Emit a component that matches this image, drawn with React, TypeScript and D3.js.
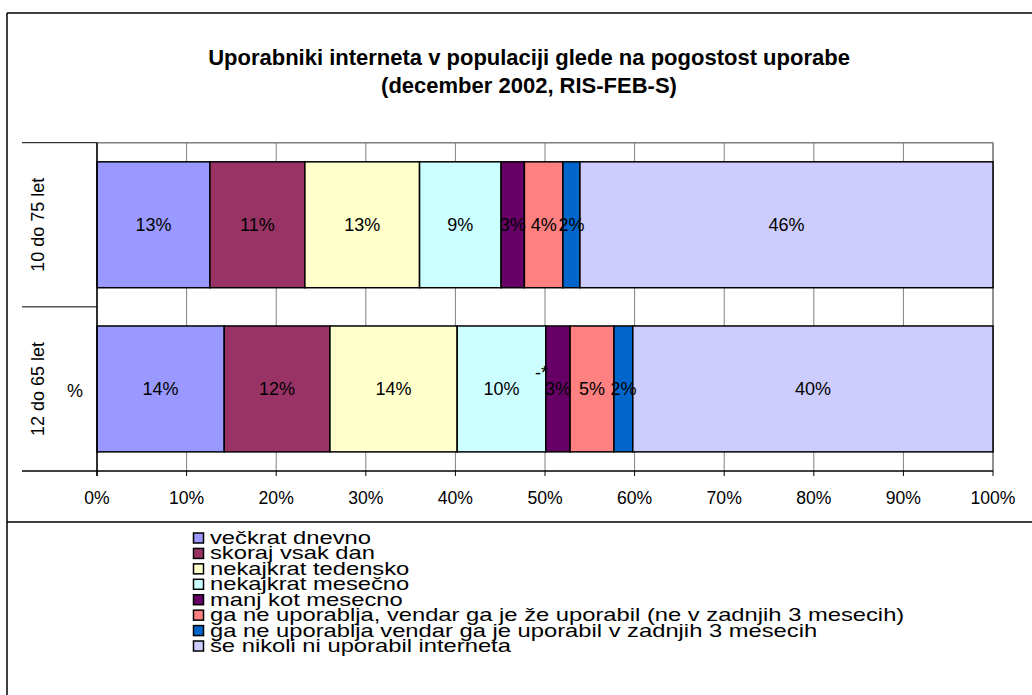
import React from "react";
import * as d3 from "d3";

const title1 = "Uporabniki interneta v populaciji glede na pogostost uporabe";
const title2 = "(december 2002, RIS-FEB-S)";

const categories = ["10 do 75 let", "12 do 65 let"];
const seriesNames = [
  "večkrat dnevno",
  "skoraj vsak dan",
  "nekajkrat tedensko",
  "nekajkrat mesečno",
  "manj kot mesecno",
  "ga ne uporablja, vendar ga je že uporabil (ne v zadnjih 3 mesecih)",
  "ga ne uporablja vendar ga je uporabil v zadnjih 3 mesecih",
  "še nikoli ni uporabil interneta",
];
const seriesColors = ["#9999FF", "#993366", "#FFFFCC", "#CCFFFF", "#660066", "#FF8080", "#0066CC", "#CCCCFF"];
// values per category (percent), in series order
const values10to75 = [12.6, 10.6, 12.8, 9.1, 2.6, 4.3, 1.9, 46.1];
const values12to65 = [14.2, 11.8, 14.2, 9.9, 2.7, 4.9, 2.1, 40.2];
const valuesByCategory = [values10to75, values12to65];
const tickValues = [0, 10, 20, 30, 40, 50, 60, 70, 80, 90, 100];
const axisTitle = "%";
const footnote = "-*";

const FONT = "'Liberation Sans', Arial, sans-serif";

export default function App() {
  const W = 1032, H = 695;
  const left = 97, right = 993, top = 142.7, bottom = 471;
  const x = d3.scaleLinear().domain([0, 100]).range([left, right]);
  const y = d3.scaleBand<string>().domain(categories).range([top, bottom]).paddingInner(0.233).paddingOuter(0.1165);
  const fmt = (v: number) => `${Math.round(v)}%`;

  const stacks = valuesByCategory.map((vals) => {
    let acc = 0;
    return vals.map((v, i) => {
      const s = { x0: acc, x1: acc + v, v, i };
      acc += v;
      return s;
    });
  });

  const legendTop = 537;
  const legendStep = 15.43;

  return (
    <svg width={W} height={H} style={{ position: "absolute", left: 0, top: 0, background: "#fff" }} fontFamily={FONT}>
      <rect x={0} y={0} width={W} height={H} fill="#fff" />
      {/* outer frame */}
      <line x1={7} y1={13} x2={W + 5} y2={13} stroke="#000" strokeWidth={1.5} />
      <line x1={7} y1={13} x2={7} y2={H + 5} stroke="#000" strokeWidth={1.5} />
      <line x1={7} y1={522} x2={W + 5} y2={522} stroke="#000" strokeWidth={1.5} />

      {/* title */}
      <text x={529} y={65} textAnchor="middle" fontWeight="bold" fontSize={22}>{title1}</text>
      <text x={529} y={93} textAnchor="middle" fontWeight="bold" fontSize={22}>{title2}</text>

      {/* gridlines */}
      {tickValues.map((t) => (
        <line key={"g" + t} x1={x(t)} x2={x(t)} y1={top} y2={bottom} stroke="#808080" strokeWidth={1} />
      ))}
      {/* plot border */}
      <line x1={left} y1={top} x2={right} y2={top} stroke="#808080" strokeWidth={1.5} />
      <line x1={right} y1={top} x2={right} y2={bottom} stroke="#808080" strokeWidth={1.5} />
      <line x1={22} y1={top} x2={left} y2={top} stroke="#000" strokeWidth={1} />
      <line x1={22} y1={top + y.step()} x2={left} y2={top + y.step()} stroke="#000" strokeWidth={1} />

      {/* bars */}
      {stacks.map((segs, ci) => (
        <g key={"c" + ci}>
          {segs.map((s) => (
            <rect key={s.i} x={x(s.x0)} y={y(categories[ci])} width={x(s.x1) - x(s.x0)} height={y.bandwidth()} fill={seriesColors[s.i]} stroke="#000" strokeWidth={1.5} />
          ))}
          {segs.map((s) => (
            <text key={"l" + s.i} x={(x(s.x0) + x(s.x1)) / 2} y={y(categories[ci])! + y.bandwidth() / 2 + 6.5} textAnchor="middle" fontSize={18} fill="#000">{fmt(s.v)}</text>
          ))}
        </g>
      ))}

      {/* footnote marker */}
      <text x={x(stacks[1][4].x0) + 2} y={y(categories[1])! + y.bandwidth() / 2 - 10} textAnchor="end" fontSize={18}>{footnote}</text>

      {/* axes */}
      <line x1={22} y1={bottom} x2={right} y2={bottom} stroke="#000" strokeWidth={1.5} />
      <line x1={left} y1={top} x2={left} y2={bottom + 5} stroke="#000" strokeWidth={1.5} />
      {tickValues.map((t) => (
        <g key={"t" + t}>
          <line x1={x(t)} x2={x(t)} y1={bottom} y2={bottom + 5} stroke="#000" strokeWidth={1} />
          <text x={x(t)} y={504} textAnchor="middle" fontSize={17.6}>{t + "%"}</text>
        </g>
      ))}

      {/* category labels */}
      {categories.map((c) => {
        const cy = y(c)! + y.bandwidth() / 2;
        return (
          <text key={c} transform={`translate(44,${cy}) rotate(-90)`} textAnchor="middle" fontSize={18}>{c}</text>
        );
      })}
      <text x={75} y={397} textAnchor="middle" fontSize={18}>{axisTitle}</text>

      {/* legend */}
      {seriesNames.map((n, i) => {
        const cy = legendTop + i * legendStep;
        return (
          <g key={n}>
            <rect x={193.5} y={cy - 4} width={10} height={10} fill={seriesColors[i]} stroke="#000" strokeWidth={1.5} />
            <text transform={`translate(210,${cy + 7}) scale(1.25,1)`} fontSize={19}>{n}</text>
          </g>
        );
      })}
    </svg>
  );
}
